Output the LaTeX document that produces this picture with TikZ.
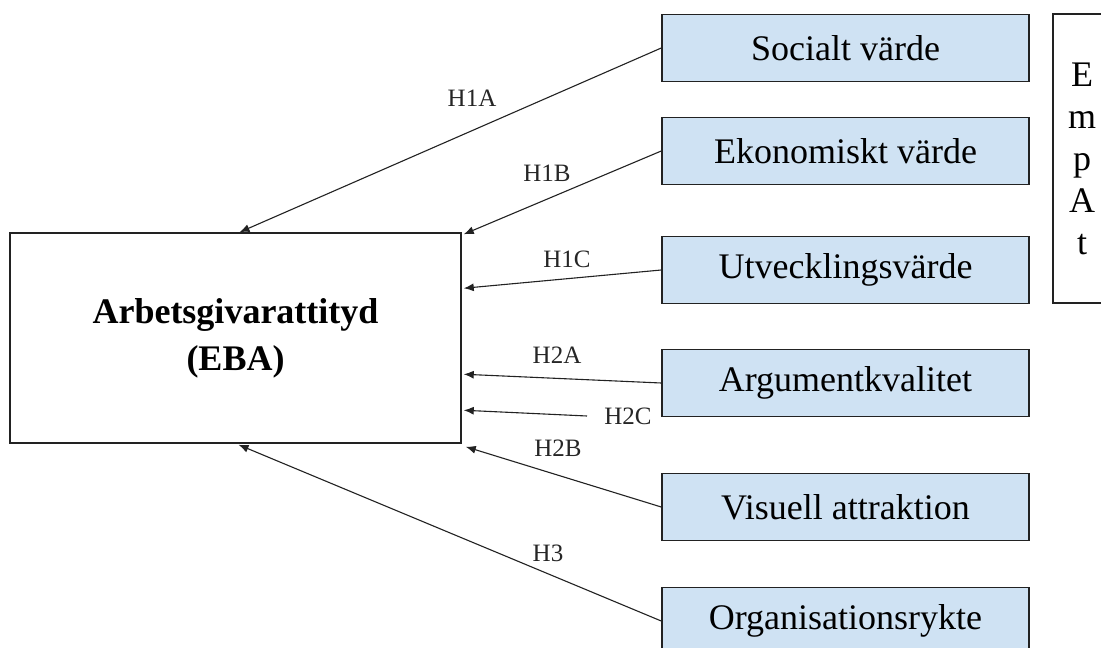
\documentclass[tikz,border=0pt]{standalone}
\usepackage{fontspec}
\setmainfont{Liberation Serif}
\usetikzlibrary{arrows.meta}
\definecolor{boxblue}{HTML}{CFE2F3}
\definecolor{edge}{HTML}{222222}
\begin{document}
\begin{tikzpicture}[x=1pt,y=-1pt,
  box/.style={draw=edge, line width=1.5pt, fill=boxblue, inner sep=0pt,
    minimum width=367pt, minimum height=67pt, font=\fontsize{36}{42}\selectfont},
  lab/.style={font=\fontsize{25}{28}\selectfont, inner sep=0pt, text=black!85},
  arr/.style={draw=edge, line width=1.1pt, -{Latex[length=10pt,width=8pt]}}
]
\clip (0,0) rectangle (1101,648);
\fill[white] (0,0) rectangle (1101,648);

\node[draw=edge, line width=1.5pt, minimum width=451pt, minimum height=210pt, inner sep=0pt,
  align=center, font=\bfseries\fontsize{36}{47}\selectfont] (eba) at (235.5,338)
  {Arbetsgivarattityd\\(EBA)};

\node[box] (soc) at (845.5,48) {Socialt värde};
\node[box] (eko) at (845.5,151) {Ekonomiskt värde};
\node[box] (utv) at (845.5,270) {Utvecklingsvärde};
\node[box] (arg) at (845.5,383) {Argumentkvalitet};
\node[box] (vis) at (845.5,507) {Visuell attraktion};
\node[box] (org) at (845.5,621) {Organisationsrykte};

\node[draw=edge, line width=1.5pt, minimum width=58pt, minimum height=289pt, inner sep=0pt,
  align=center, font=\fontsize{36}{42}\selectfont] (empat) at (1082,158.5)
  {E\\m\\p\\A\\t};

\coordinate (h2cstart) at (587,416);

\draw[arr] (soc.west) -- ([xshift=4pt]eba.north);
\draw[arr] (eko.west) -- ([xshift=2pt,yshift=-2pt]eba.north east);
\draw[arr] (utv.west) -- ([xshift=2pt,yshift=-56pt]eba.north east);
\draw[arr] (arg.west) -- ([xshift=2pt,yshift=-142pt]eba.north east);
\draw[arr] (h2cstart) -- ([xshift=2pt,yshift=-178pt]eba.north east);
\draw[arr] (vis.west) -- ([xshift=4pt,yshift=-3pt]eba.south east);
\draw[arr] (org.west) -- ([xshift=3pt,yshift=-1pt]eba.south);

\node[lab] (l1a) at (472,98) {H1A};
\node[lab] (l1b) at (547,173) {H1B};
\node[lab] (l1c) at (567,259) {H1C};
\node[lab] (l2a) at (557,355) {H2A};
\node[lab] (l2c) at (628,416) {H2C};
\node[lab] (l2b) at (558,448) {H2B};
\node[lab] (l3) at (548,553) {H3};
\end{tikzpicture}
\end{document}
